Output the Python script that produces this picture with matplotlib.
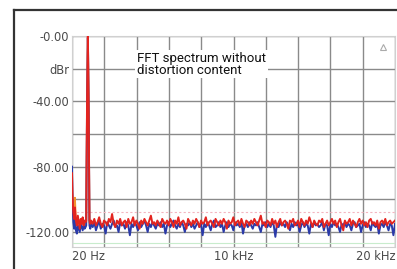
import matplotlib
matplotlib.use("Agg")
import matplotlib.pyplot as plt
from matplotlib.lines import Line2D

# ---------------- data ----------------
low_freq = [20, 60, 100, 150, 200, 260, 320, 380, 440, 500, 560, 620, 680, 740, 800, 860]
red_low = [-84, -100, -108, -112, -105, -113, -116, -110, -114, -118, -112, -115, -111, -116, -113, -114]
blue_low = [-80, -104, -114, -118, -112, -119, -121, -116, -118, -120, -115, -117, -119, -116, -118, -117]
orange_low = [-95, -101, -103, -110, -99, -112, -114, -115, -113, -116, -114, -115, -113, -114, -115, -116]

peak_freq = [900, 915, 950, 985, 1000, 1015, 1050, 1085, 1100, 1150]
red_peak = [-113, -88, -42, -10, 0, -10, -42, -88, -113, -115]
blue_peak = [-116, -92, -45, -12, -1, -12, -45, -92, -116, -118]
orange_peak = [-114, -90, -44, -11, -1, -11, -44, -90, -114, -116]

noise_freq = list(range(1200, 20001, 100))
red_noise = [
    -113, -115, -112, -116, -114, -111, -115, -117, -113, -114,
    -116, -112, -114, -109, -115, -117, -113, -115, -112, -116,
    -114, -113, -117, -112, -115, -114, -111, -116, -113, -115,
    -118, -113, -115, -112, -114, -116, -113, -110, -115, -114,
    -116, -113, -115, -117, -112, -114, -115, -113, -116, -112,
    -114, -117, -113, -115, -111, -116, -114, -113, -115, -118,
    -112, -114, -116, -113, -115, -112, -114, -117, -113, -115,
    -114, -111, -116, -114, -113, -115, -117, -112, -114, -116,
    -113, -115, -112, -114, -118, -113, -115, -114, -111, -116,
    -114, -113, -116, -112, -115, -117, -113, -114, -116, -113,
    -115, -112, -114, -116, -113, -110, -115, -114, -117, -113,
    -114, -116, -112, -115, -113, -117, -114, -112, -116, -114,
    -113, -115, -118, -113, -114, -112, -116, -115, -113, -117,
    -112, -114, -116, -113, -115, -111, -114, -117, -113, -115,
    -116, -113, -114, -112, -117, -115, -113, -116, -114, -112,
    -115, -113, -117, -114, -112, -116, -119, -113, -115, -114,
    -112, -116, -113, -115, -117, -114, -112, -115, -113, -116,
    -114, -117, -113, -112, -115, -114, -116, -113, -118, -114,
    -113, -115, -112, -116, -114, -113, -115, -114, -113,
]
blue_noise = [
    -115, -117, -114, -119, -116, -113, -118, -115, -116, -121,
    -114, -116, -118, -115, -113, -117, -116, -120, -114, -116,
    -115, -118, -114, -116, -122, -115, -117, -114, -116, -119,
    -114, -117, -115, -113, -116, -120, -115, -117, -114, -116,
    -118, -115, -116, -114, -117, -115, -121, -116, -114, -117,
    -115, -113, -116, -118, -115, -117, -114, -116, -120, -115,
    -116, -114, -117, -115, -118, -116, -114, -117, -115, -122,
    -115, -117, -114, -116, -119, -115, -113, -117, -116, -114,
    -117, -115, -120, -116, -114, -117, -115, -116, -119, -114,
    -116, -115, -117, -114, -121, -116, -115, -117, -114, -116,
    -118, -115, -116, -114, -117, -120, -115, -116, -114, -117,
    -115, -117, -114, -116, -123, -115, -117, -114, -116, -115,
    -117, -114, -116, -119, -115, -117, -114, -116, -115, -120,
    -116, -114, -117, -115, -116, -121, -115, -117, -114, -116,
    -115, -117, -116, -114, -119, -115, -116, -122, -115, -117,
    -114, -116, -115, -117, -120, -115, -116, -114, -117, -115,
    -116, -119, -115, -114, -117, -116, -115, -120, -116, -114,
    -117, -115, -116, -119, -114, -116, -117, -115, -121, -116,
    -115, -117, -114, -116, -119, -115, -116, -122, -115,
]

y_ticks = [0, -20, -40, -60, -80, -100, -120]
y_labels = ["-0.00", "dBr", "-40.00", "", "-80.00", "", "-120.00"]
x_grid = [20, 2018, 4016, 6014, 8012, 10010, 12008, 14006, 16004, 18002, 20000]
x_ticks = [20, 10010, 20000]
x_labels = ["20 Hz", "10 kHz", "20 kHz"]
annotation = "FFT spectrum without\ndistortion content"

# ---------------- figure ----------------
W, H = 397, 269
fig = plt.figure(figsize=(W / 100, H / 100), dpi=100)
fig.patch.set_facecolor("white")

# outer frame (left + top)
fig.add_artist(Line2D([14 / W, 14 / W], [0, 1 - 10 / H], color="#333333", lw=1.6))
fig.add_artist(Line2D([14 / W, 1], [1 - 10 / H, 1 - 10 / H], color="#333333", lw=1.6))

ax = fig.add_axes([72 / W, 1 - 247 / H, (395 - 72) / W, (247 - 36) / H])
ax.set_xlim(20, 20000)
ax.set_ylim(-129.2, 0)

for s in ax.spines.values():
    s.set_color("#d0d0d0")
    s.set_linewidth(0.8)

ax.set_xticks(x_grid)
ax.set_yticks(y_ticks)
ax.grid(True, color="#8a8a8a", lw=1.0)
ax.tick_params(length=0, labelsize=8.3, colors="#4a4a4a", pad=2)
ax.set_yticklabels(y_labels)
ax.set_xticklabels(["" for _ in x_grid])

for xv, lab, ha in zip(x_ticks, x_labels, ["left", "center", "right"]):
    ax.text(xv, -131.0, lab, ha=ha, va="top", fontsize=8.3, color="#4a4a4a")

# faint limit lines
ax.axhline(-108, color="#f3b6c0", lw=0.8, ls=(0, (2, 2)))
ax.axhline(-127, color="#c8eccc", lw=0.8)

f_all = low_freq + peak_freq + noise_freq
blue_all = blue_low + blue_peak + blue_noise
red_all = red_low + red_peak + red_noise
orange_all = orange_low + orange_peak

ax.plot(low_freq + peak_freq, orange_all, color="#f2922e", lw=1.3, zorder=3)
ax.plot(f_all, blue_all, color="#2b3aa8", lw=1.4, zorder=4)
ax.plot(f_all, red_all, color="#e3241f", lw=1.4, zorder=5)

# marker triangle at top right
ax.plot([19250], [-7], marker="^", ms=5, mfc="none", mec="#aaaaaa", mew=0.8, zorder=6)

# annotation box
fig.text(137 / W, 1 - 52 / H, annotation, ha="left", va="top", fontsize=9.5,
         family=["Liberation Sans Narrow", "Roboto", "DejaVu Sans"], color="#111111",
         linespacing=0.85,
         bbox=dict(boxstyle="square,pad=0.15", fc="white", ec="none"), zorder=10)

fig.savefig("out.png", dpi=100, facecolor="white")
